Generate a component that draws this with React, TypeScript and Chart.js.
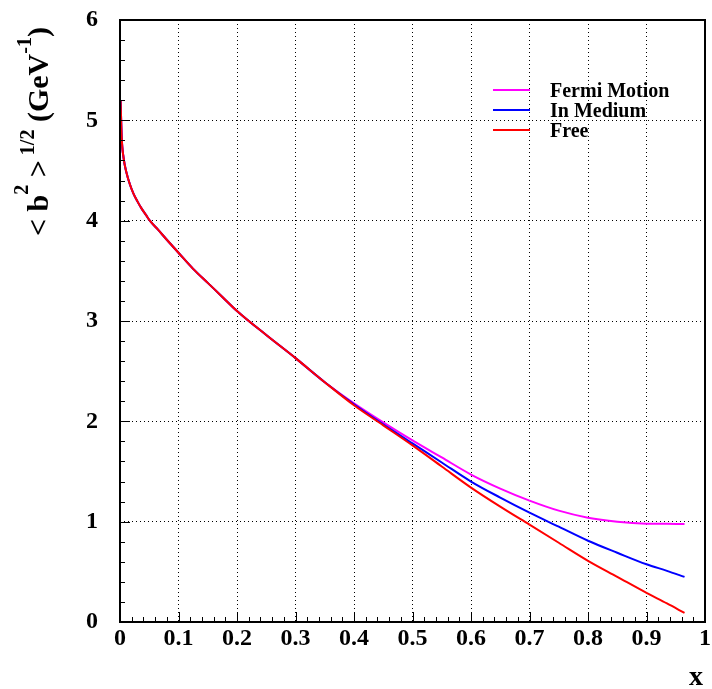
import React, { useEffect, useRef } from 'react';
import { Chart, registerables } from 'chart.js';

Chart.register(...registerables);

// Bjorken x at which the curves are sampled
const xValues = [
  0.001, 0.003, 0.006, 0.011, 0.017, 0.023, 0.03, 0.037, 0.044, 0.051, 0.065, 0.08,
  0.1, 0.125, 0.15, 0.175, 0.2, 0.25, 0.3, 0.35, 0.4, 0.45, 0.5, 0.55, 0.6, 0.65,
  0.7, 0.75, 0.8, 0.85, 0.9, 0.935, 0.965,
];

// <b^2>^{1/2} in GeV^-1
const fermiMotion = [
  5.2, 4.82, 4.63, 4.48, 4.36, 4.27, 4.19, 4.12, 4.06, 4.0, 3.91, 3.81,
  3.68, 3.52, 3.38, 3.24, 3.1, 2.86, 2.63, 2.39, 2.18, 1.99, 1.81, 1.64, 1.47, 1.33,
  1.21, 1.11, 1.04, 1.0, 0.98, 0.978, 0.977,
];
const inMedium = [
  5.2, 4.82, 4.63, 4.48, 4.36, 4.27, 4.19, 4.12, 4.06, 4.0, 3.91, 3.81,
  3.68, 3.52, 3.38, 3.24, 3.1, 2.86, 2.63, 2.39, 2.17, 1.97, 1.78, 1.59, 1.4, 1.24,
  1.09, 0.95, 0.81, 0.69, 0.575, 0.51, 0.45,
];
const free = [
  5.2, 4.82, 4.63, 4.48, 4.36, 4.27, 4.19, 4.12, 4.06, 4.0, 3.91, 3.81,
  3.68, 3.52, 3.38, 3.24, 3.1, 2.86, 2.63, 2.39, 2.16, 1.96, 1.76, 1.55, 1.34, 1.15,
  0.97, 0.79, 0.61, 0.45, 0.29, 0.185, 0.09,
];

const seriesNames = ['Fermi Motion', 'In Medium', 'Free'];
const seriesColors = ['#ff00ff', '#0000ff', '#ff0000'];

const xTickLabels = ['0', '0.1', '0.2', '0.3', '0.4', '0.5', '0.6', '0.7', '0.8', '0.9', '1'];
const yTickLabels = ['0', '1', '2', '3', '4', '5', '6'];

const SERIF = '"Liberation Serif", "Times New Roman", serif';

const toPoints = (ys: number[]) => xValues.map((x, i) => ({ x, y: ys[i] }));

// Inward ticks, frame, legend and axis titles in ROOT style
const decorations = {
  id: 'decorations',
  afterDraw(chart: any) {
    const { ctx, chartArea: a, scales } = chart;
    const xs = scales.x;
    const ys = scales.y;
    ctx.save();

    // tick marks pointing into the plot
    ctx.strokeStyle = '#000';
    ctx.lineWidth = 1;
    ctx.beginPath();
    for (let i = 0; i <= 50; i++) {
      const px = Math.round(xs.getPixelForValue(i / 50)) + 0.5;
      const len = i % 5 === 0 ? 10 : 5;
      ctx.moveTo(px, a.bottom);
      ctx.lineTo(px, a.bottom - len);
    }
    for (let i = 0; i <= 30; i++) {
      const py = Math.round(ys.getPixelForValue(i / 5)) + 0.5;
      const len = i % 5 === 0 ? 10 : 5;
      ctx.moveTo(a.left, py);
      ctx.lineTo(a.left + len, py);
    }
    ctx.stroke();

    // frame
    ctx.lineWidth = 2;
    ctx.strokeRect(a.left, a.top, a.right - a.left, a.bottom - a.top);

    // legend
    ctx.font = `bold 20px ${SERIF}`;
    ctx.textAlign = 'left';
    ctx.textBaseline = 'alphabetic';
    seriesNames.forEach((name, i) => {
      const y = 90 + i * 20;
      ctx.strokeStyle = seriesColors[i];
      ctx.lineWidth = 2;
      ctx.beginPath();
      ctx.moveTo(493, y);
      ctx.lineTo(530, y);
      ctx.stroke();
      ctx.fillStyle = '#000';
      ctx.fillText(name, 550, y + 7);
    });

    // x-axis title
    ctx.font = `bold 28px ${SERIF}`;
    ctx.textAlign = 'right';
    ctx.fillText('x', 703, 685);

    // y-axis title with superscripts, rotated
    ctx.translate(48, 236);
    ctx.rotate(-Math.PI / 2);
    ctx.textAlign = 'left';
    const parts: [string, number, number][] = [
      ['< b', 30, 0],
      ['2', 20, 20],
      [' >', 30, 0],
      [' 1/2', 20, 14],
      [' (GeV', 30, 0],
      ['-1', 20, 17],
      [')', 30, 0],
    ];
    let cx = 0;
    for (const [t, size, raise] of parts) {
      ctx.font = `bold ${size}px ${SERIF}`;
      ctx.fillText(t, cx, -raise);
      cx += ctx.measureText(t).width;
    }
    ctx.restore();
  },
};

export default function App() {
  const canvasRef = useRef<HTMLCanvasElement | null>(null);

  useEffect(() => {
    const canvas = canvasRef.current;
    if (!canvas) return;
    const series = [free, inMedium, fermiMotion];
    const names = ['Free', 'In Medium', 'Fermi Motion'];
    const chart = new Chart(canvas, {
      type: 'line',
      data: {
        datasets: series.map((s, i) => ({
          label: names[i],
          data: toPoints(s),
          borderColor: seriesColors[seriesNames.indexOf(names[i])],
          borderWidth: 2,
          pointRadius: 0,
          fill: false,
          cubicInterpolationMode: 'monotone' as const,
        })),
      },
      options: {
        responsive: false,
        animation: false,
        devicePixelRatio: 1,
        layout: { padding: { top: 20, right: 7, left: 0, bottom: 0 } },
        plugins: { legend: { display: false }, tooltip: { enabled: false } },
        scales: {
          x: {
            type: 'linear',
            min: 0,
            max: 1,
            afterFit: (scale: any) => {
              scale.height = 67;
              scale.paddingLeft = 0;
              scale.paddingRight = 0;
            },
            grid: { color: '#000', lineWidth: 1, drawTicks: false },
            border: { display: false, dash: [1, 3] },
            ticks: {
              stepSize: 0.1,
              autoSkip: false,
              maxRotation: 0,
              padding: 2,
              color: '#000',
              font: { family: SERIF, size: 24, weight: 'bold' },
              callback: (_v: any, i: number) => xTickLabels[i] ?? '',
            },
          },
          y: {
            type: 'linear',
            min: 0,
            max: 6,
            afterFit: (scale: any) => {
              scale.width = 120;
              scale.paddingTop = 0;
              scale.paddingBottom = 0;
            },
            grid: { color: '#000', lineWidth: 1, drawTicks: false },
            border: { display: false, dash: [1, 3] },
            ticks: {
              stepSize: 1,
              padding: 22,
              color: '#000',
              font: { family: SERIF, size: 24, weight: 'bold' },
              callback: (_v: any, i: number) => yTickLabels[i] ?? '',
            },
          },
        },
      },
      plugins: [decorations],
    });
    return () => chart.destroy();
  }, []);

  return (
    <canvas
      ref={canvasRef}
      width={712}
      height={689}
      style={{ position: 'absolute', left: 0, top: 0, width: 712, height: 689 }}
    />
  );
}
